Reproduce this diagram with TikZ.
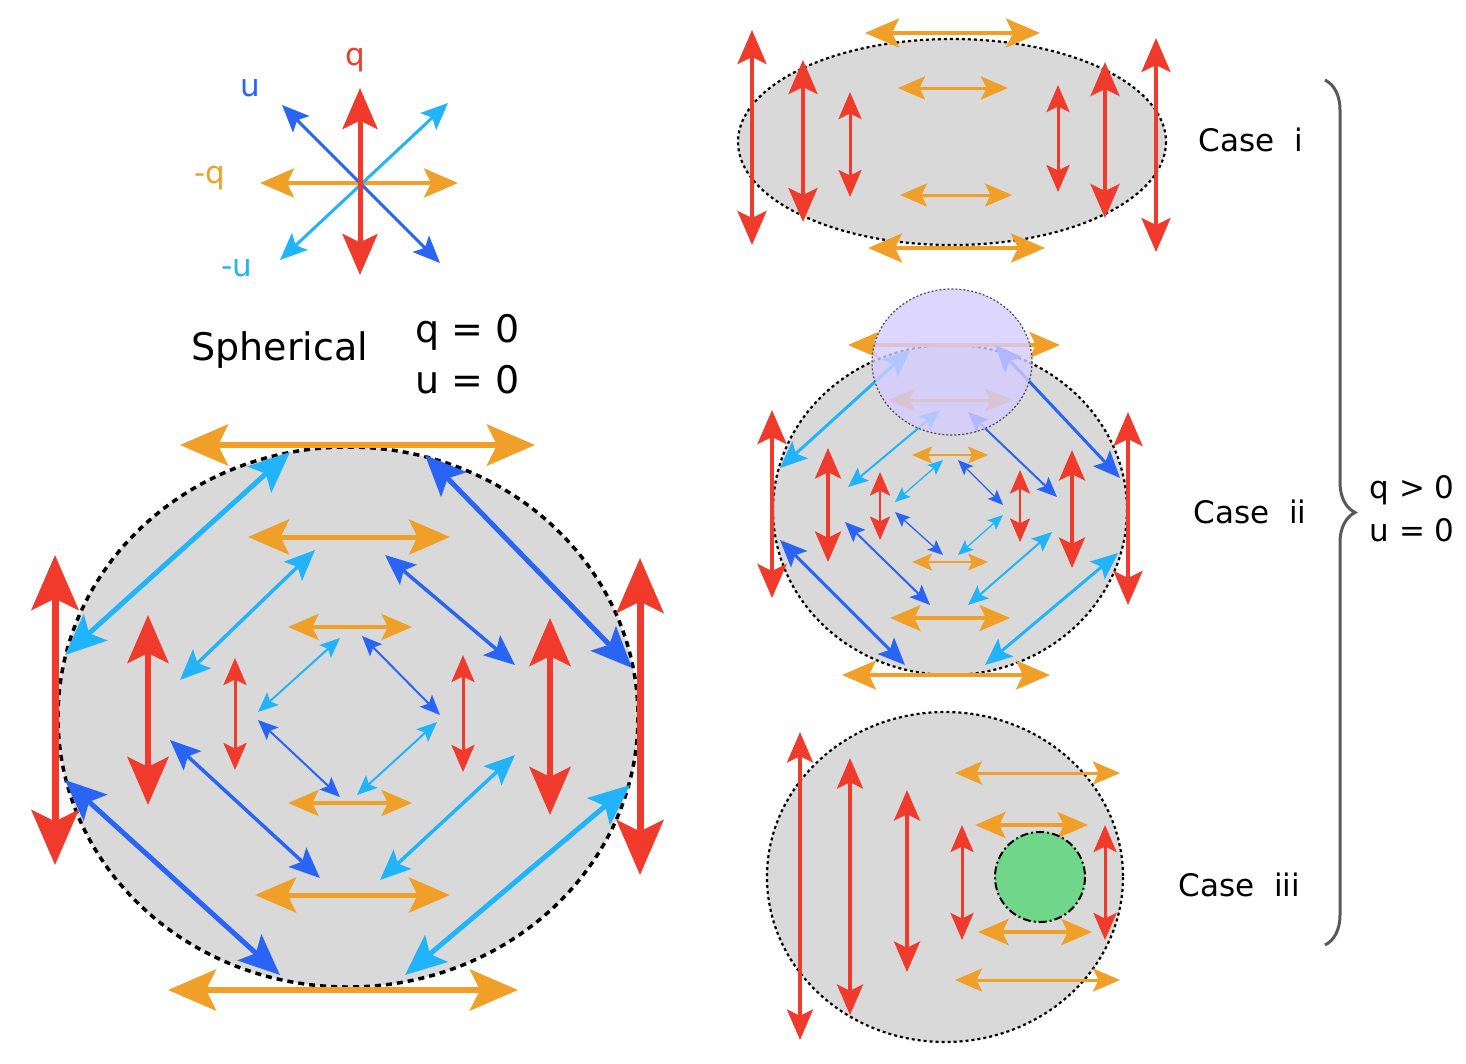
\documentclass[tikz,border=0pt]{standalone}
\usepackage{fontspec}
\setmainfont{DejaVu Sans}
\usetikzlibrary{arrows.meta,decorations.pathreplacing}
\definecolor{cr}{HTML}{F03A2B}
\definecolor{co}{HTML}{F0A028}
\definecolor{cb}{HTML}{2A64F5}
\definecolor{cl}{HTML}{22B4FA}
\definecolor{cg}{HTML}{D9D9D9}
\definecolor{cp}{HTML}{D4CCFF}
\definecolor{cgr}{HTML}{6FD68A}
\tikzset{
ar/.style n args={2}{draw=#1, line width=#2pt, {Stealth[length=6pt 7,width=5pt 6,inset=1pt 1.5]}-{Stealth[length=6pt 7,width=5pt 6,inset=1pt 1.5]}},
bub/.style={fill=cg, draw=black, line width=3.5pt, dash pattern=on 6pt off 5pt},
bubs/.style={fill=cg, draw=black, line width=2.2pt, dash pattern=on 3pt off 3pt},
lab/.style={font=\fontsize{31}{36}\selectfont, anchor=center},
big/.style={font=\fontsize{38}{44}\selectfont}
}
\begin{document}
\begin{tikzpicture}[x=1pt,y=-1pt]
\useasboundingbox (0,0) rectangle (1466,1063);
% compass
\draw[ar={co}{4}] (260,183)--(458,183);
\draw[ar={cb}{3}] (282,105)--(440,263);
\draw[ar={cl}{3}] (280,260)--(448,103);
\draw[ar={cr}{5}] (360,88)--(360,275);
\node[lab,text=cr] (lq) at (355,60) {q};
\node[lab,text=cb] (lu) at (250,88) {u};
\node[lab,text=co] (lmq) at (210,178) {-q};
\node[lab,text=cl] (lmu) at (237,268) {-u};
\node[lab,big,anchor=west] (sph) at (188,350) {Spherical};
\node[lab,big,anchor=west] (q0) at (412,332) {q = 0};
\node[lab,big,anchor=west] (u0) at (412,380) {u = 0};
% spherical
\path[bub] (348,717) ellipse [x radius=290, y radius=270];
\draw[ar={co}{6}] (180,445)--(535,445);
\draw[ar={co}{6}] (168,990)--(518,990);
\draw[ar={cr}{7}] (55,555)--(55,865);
\draw[ar={cr}{7}] (640,558)--(640,875);
\draw[ar={cl}{5}] (65,655)--(290,452);
\draw[ar={cb}{5}] (425,455)--(632,668);
\draw[ar={cb}{5}] (65,780)--(280,975);
\draw[ar={cl}{5}] (405,975)--(630,785);
\draw[ar={co}{5}] (248,537)--(450,537);
\draw[ar={co}{5}] (255,895)--(450,895);
\draw[ar={cr}{6}] (148,615)--(148,805);
\draw[ar={cr}{6}] (550,618)--(550,815);
\draw[ar={cl}{3.5}] (180,680)--(315,550);
\draw[ar={cb}{3.5}] (385,555)--(515,665);
\draw[ar={cb}{3.5}] (170,740)--(320,878);
\draw[ar={cl}{3.5}] (380,880)--(515,755);
\draw[ar={co}{3.5}] (288,627)--(412,627);
\draw[ar={co}{3.5}] (288,803)--(412,803);
\draw[ar={cr}{3}] (235,658)--(235,770);
\draw[ar={cr}{3}] (463,655)--(463,772);
\draw[ar={cl}{2}] (258,712)--(340,638);
\draw[ar={cb}{2}] (362,636)--(440,715);
\draw[ar={cb}{2}] (258,720)--(340,797);
\draw[ar={cl}{2}] (357,795)--(437,722);
% case i
\path[bubs] (952,142) ellipse [x radius=214, y radius=103];
\draw[ar={co}{4}] (865,33)--(1040,33);
\draw[ar={co}{4}] (868,248)--(1045,248);
\draw[ar={co}{3}] (898,88)--(1008,88);
\draw[ar={co}{3}] (900,195)--(1012,195);
\draw[ar={cr}{4}] (752,30)--(752,245);
\draw[ar={cr}{4}] (803,60)--(803,222);
\draw[ar={cr}{3}] (850,92)--(850,197);
\draw[ar={cr}{3}] (1058,85)--(1058,192);
\draw[ar={cr}{4}] (1105,62)--(1105,218);
\draw[ar={cr}{4}] (1156,38)--(1156,252);
\node[lab,anchor=west] (c1) at (1195,140) {Case\ \ i};
% case ii
\path[bubs] (950,510) ellipse [x radius=177, y radius=165];
\draw[ar={co}{3.5}] (848,345)--(1060,345);
\draw[ar={co}{3}] (888,400)--(1012,400);
\draw[ar={co}{4}] (842,675)--(1050,675);
\draw[ar={co}{3.5}] (890,618)--(1010,618);
\draw[ar={co}{2}] (912,455)--(988,455);
\draw[ar={co}{2}] (912,562)--(988,562);
\draw[ar={cr}{4}] (772,410)--(772,598);
\draw[ar={cr}{4}] (1128,412)--(1128,605);
\draw[ar={cr}{3.5}] (828,448)--(828,562);
\draw[ar={cr}{3.5}] (1072,450)--(1072,568);
\draw[ar={cr}{2.5}] (880,472)--(880,540);
\draw[ar={cr}{2.5}] (1020,470)--(1020,542);
\draw[ar={cl}{3}] (780,468)--(910,350);
\draw[ar={cb}{3}] (995,345)--(1120,478);
\draw[ar={cb}{3}] (780,540)--(905,665);
\draw[ar={cl}{3}] (985,665)--(1118,553);
\draw[ar={cl}{2}] (848,487)--(940,410);
\draw[ar={cb}{2}] (968,412)--(1057,497);
\draw[ar={cb}{2}] (845,522)--(930,605);
\draw[ar={cl}{2}] (968,605)--(1052,532);
\draw[ar={cl}{1.3}] (895,502)--(943,460);
\draw[ar={cb}{1.3}] (958,460)--(1003,505);
\draw[ar={cb}{1.3}] (895,512)--(943,555);
\draw[ar={cl}{1.3}] (958,555)--(1003,515);
\path[fill=cp, fill opacity=0.8, draw=black!70, line width=1.2pt, dash pattern=on 2pt off 2pt] (952,362) ellipse [x radius=80, y radius=73];
\node[lab,anchor=west] (c2) at (1190,512) {Case\ \ ii};
% case iii
\path[bubs] (945,877) ellipse [x radius=178, y radius=165];
\draw[ar={cr}{3.5}] (800,732)--(800,1040);
\draw[ar={cr}{3.5}] (850,758)--(850,1015);
\draw[ar={cr}{3.5}] (907,790)--(907,972);
\draw[ar={cr}{3}] (962,825)--(962,940);
\draw[ar={cr}{3}] (1105,825)--(1105,940);
\draw[ar={co}{3}] (955,773)--(1120,773);
\draw[ar={co}{3.5}] (975,825)--(1088,825);
\draw[ar={co}{3.5}] (978,932)--(1092,932);
\draw[ar={co}{3}] (955,980)--(1120,980);
\path[fill=cgr, draw=black, line width=2pt, dash pattern=on 8pt off 3pt on 2pt off 3pt] (1040,877) circle [radius=45];
\node[lab,anchor=west] (c3) at (1175,885) {Case\ \ iii};
% brace
\coordinate (b1) at (1325,80);
\coordinate (b2) at (1325,945);
\draw[black!65, line width=3pt, decorate, decoration={brace, amplitude=30pt, aspect=0.5}] (b1)--(b2);
\node[lab,anchor=west] (qg) at (1366,490) {q > 0};
\node[lab,anchor=west] (uz) at (1366,530) {u = 0};
\end{tikzpicture}
\end{document}
